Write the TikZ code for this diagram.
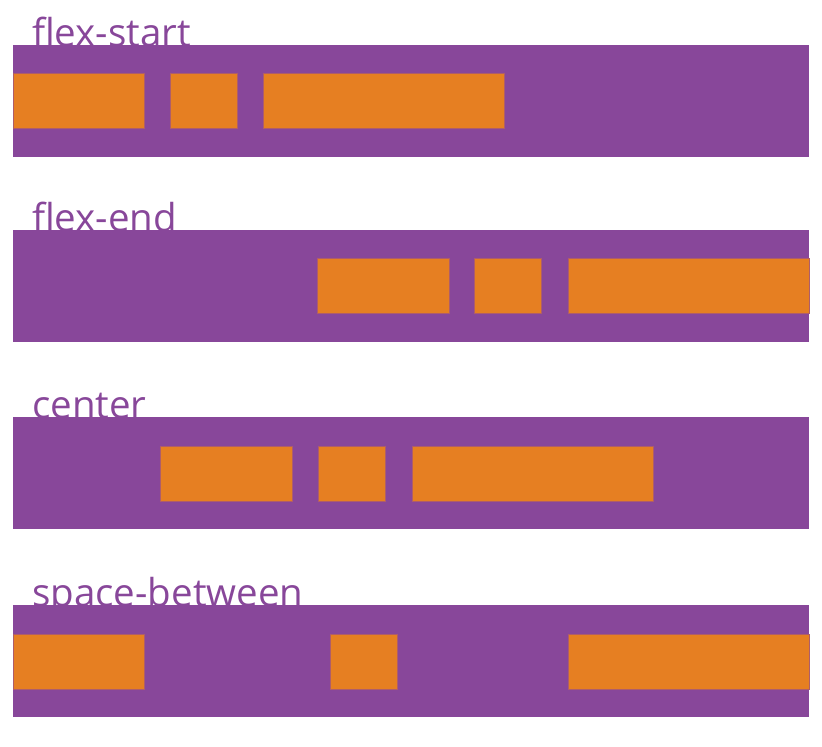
\documentclass[tikz,border=0pt]{standalone}
\usepackage{fontspec}
\setmainfont{Open Sans}
\definecolor{boxpurple}{HTML}{88479A}
\definecolor{itemorange}{HTML}{E67F22}
\begin{document}
\begin{tikzpicture}[x=1pt,y=-1pt,
  lbl/.style={anchor=base west,inner sep=0pt,text=boxpurple,font=\fontsize{38.5}{42}\selectfont},
  bar/.style={fill=boxpurple,draw=none},
  item/.style={fill=itemorange,draw=boxpurple!60!itemorange,line width=0.5pt}]
\useasboundingbox (0,0) rectangle (822,747);
% labels (drawn first; bars overlap descenders)
\node[lbl] (l1) at (32,46) {flex-start};
\node[lbl] (l2) at (32,231) {flex-end};
\node[lbl] (l3) at (32,418) {center};
\node[lbl] (l4) at (32,606) {space-between};
% row 1
\fill[bar] (13,45) rectangle (809,157);
\draw[item] (13,73) rectangle (144,128);
\draw[item] (170,73) rectangle (237,128);
\draw[item] (263,73) rectangle (504,128);
% row 2
\fill[bar] (13,230) rectangle (809,342);
\draw[item] (317,258.5) rectangle (449,313.5);
\draw[item] (474,258.5) rectangle (541,313.5);
\draw[item] (568,258.5) rectangle (809,313.5);
% row 3
\fill[bar] (13,417) rectangle (809,529);
\draw[item] (160,446) rectangle (292,501);
\draw[item] (318,446) rectangle (385,501);
\draw[item] (412,446) rectangle (653,501);
% row 4
\fill[bar] (13,605) rectangle (809,717);
\draw[item] (13,634) rectangle (144,689);
\draw[item] (330,634) rectangle (397,689);
\draw[item] (568,634) rectangle (809,689);
\end{tikzpicture}
\end{document}
